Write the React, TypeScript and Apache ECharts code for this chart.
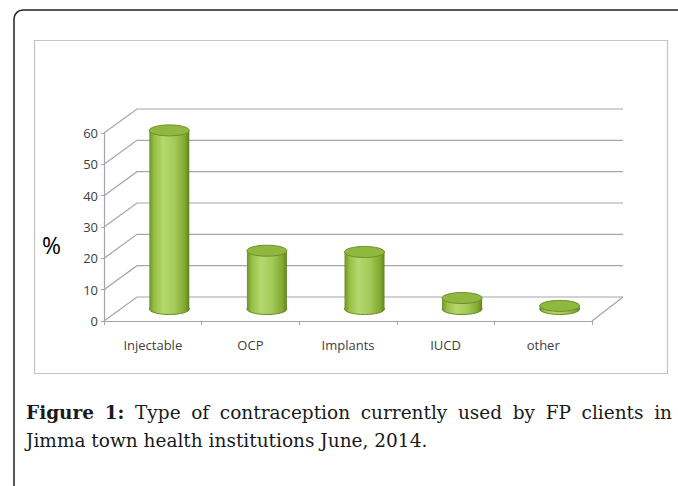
import React, { useEffect, useRef } from "react";
import * as echarts from "echarts";

const categories = ["Injectable", "OCP", "Implants", "IUCD", "other"];
const values = [57, 18.6, 18.2, 3.5, 1];
const yTicks = [0, 10, 20, 30, 40, 50, 60];
const yAxisName = "%";
const captionBold = ["Figure", "1:"];
const captionLine1 = ["Type", "of", "contraception", "currently", "used", "by", "FP", "clients", "in"];
const captionLine2 = "Jimma town health institutions June, 2014.";

// layout (not data)
const DEPTH_X = 33;
const DEPTH_Y = -24;
const CAP_LEFT = 26;
const CAP_RIGHT = 672;

export default function App() {
  const ref = useRef<HTMLDivElement>(null);
  useEffect(() => {
    if (!ref.current) return;
    const chart = echarts.init(ref.current, undefined, { renderer: "svg" });
    const gridColor = "#a6a4ab";
    const font = "'Open Sans', 'Noto Sans', sans-serif";
    const serif = "'DejaVu Serif', 'Liberation Serif', serif";
    const capSize = 18.5;

    // justify line 1 by measuring word widths
    const cv = document.createElement("canvas");
    const ctx = cv.getContext("2d") as CanvasRenderingContext2D;
    const words = [...captionBold, ...captionLine1];
    const fonts = words.map((_, i) => `${i < captionBold.length ? "bold " : ""}${capSize}px ${serif}`);
    const widths = words.map((w, i) => {
      ctx.font = fonts[i];
      return ctx.measureText(w).width;
    });
    const total = widths.reduce((a, b) => a + b, 0);
    const gap = (CAP_RIGHT - CAP_LEFT - total) / (words.length - 1);
    let xPos = CAP_LEFT;
    const captionGraphics: any[] = words.map((w, i) => {
      const g = {
        type: "text",
        x: xPos,
        y: 412,
        style: { text: w, font: fonts[i], fill: "#1a1a1a", verticalAlign: "middle" },
      };
      xPos += widths[i] + gap;
      return g;
    });
    captionGraphics.push({
      type: "text",
      x: CAP_LEFT,
      y: 440,
      style: { text: captionLine2, font: `${capSize}px ${serif}`, fill: "#1a1a1a", verticalAlign: "middle" },
    });

    chart.setOption({
      animation: false,
      grid: { left: 104, top: 133, width: 488, height: 188 },
      xAxis: {
        type: "category",
        data: categories,
        boundaryGap: true,
        axisLine: { lineStyle: { color: gridColor, width: 1.2 } },
        axisTick: { show: true, length: 4, lineStyle: { color: gridColor } },
        axisLabel: { color: "#404040", fontSize: 13, fontFamily: font, margin: 17 },
        splitLine: { show: false },
      },
      yAxis: {
        type: "value",
        min: 0,
        max: 60,
        interval: 10,
        axisLine: { show: true, lineStyle: { color: gridColor, width: 1.2 } },
        axisTick: { show: true, length: 3, lineStyle: { color: gridColor } },
        axisLabel: { color: "#404040", fontSize: 13, fontFamily: font, margin: 6 },
        splitLine: { show: false },
      },
      graphic: [
        {
          type: "rect",
          shape: { x: 14, y: 10, width: 720, height: 600, r: 9 },
          style: { fill: "none", stroke: "#222", lineWidth: 1.5 },
          silent: true,
        },
        {
          type: "rect",
          shape: { x: 34.5, y: 40.5, width: 633, height: 333 },
          style: { fill: "none", stroke: "#c4c4c4", lineWidth: 1.2 },
          silent: true,
        },
        {
          type: "text",
          x: 42,
          y: 245,
          style: { text: yAxisName, font: `500 23px ${font}`, fill: "#000", verticalAlign: "middle" },
        },
        ...captionGraphics,
      ],
      series: [
        {
          type: "custom",
          name: "walls",
          z: 1,
          silent: true,
          clip: false,
          data: yTicks.map((v) => [0, v]),
          renderItem: (params: any, api: any) => {
            const cs = params.coordSys;
            const v = api.value(1);
            const y = api.coord([0, v])[1];
            const x0 = cs.x;
            const x1 = cs.x + cs.width;
            const children: any[] = [
              {
                type: "polyline",
                shape: {
                  points: [
                    [x0, y],
                    [x0 + DEPTH_X, y + DEPTH_Y],
                    [x1 + DEPTH_X - 2, y + DEPTH_Y],
                  ],
                },
                style: { stroke: gridColor, lineWidth: 1.2, fill: "none" },
              },
            ];
            if (v === 0) {
              children.push({
                type: "line",
                shape: { x1: x1, y1: y, x2: x1 + DEPTH_X - 2, y2: y + DEPTH_Y },
                style: { stroke: gridColor, lineWidth: 1.2 },
              });
            }
            return { type: "group", children };
          },
        },
        {
          type: "custom",
          name: "cylinders",
          z: 5,
          clip: false,
          data: values.map((v, i) => [i, v]),
          renderItem: (params: any, api: any) => {
            const i = api.value(0);
            const v = api.value(1);
            const base = api.coord([i, 0]);
            const top = api.coord([i, v]);
            const cx = base[0] + DEPTH_X / 2;
            const yb = base[1] + DEPTH_Y / 2;
            const yt = top[1] + DEPTH_Y / 2;
            const rx = 20;
            const ry = 5.5;
            const body = {
              type: "linear",
              x: 0,
              y: 0,
              x2: 1,
              y2: 0,
              colorStops: [
                { offset: 0, color: "#6e9124" },
                { offset: 0.12, color: "#96bf45" },
                { offset: 0.35, color: "#b6d86e" },
                { offset: 0.65, color: "#a2c955" },
                { offset: 0.9, color: "#7fa62f" },
                { offset: 1, color: "#5f801c" },
              ],
            };
            return {
              type: "group",
              children: [
                {
                  type: "ellipse",
                  shape: { cx, cy: yb, rx, ry },
                  style: { fill: body, stroke: "#6a8a22", lineWidth: 1 },
                },
                {
                  type: "rect",
                  shape: { x: cx - rx, y: yt, width: rx * 2, height: Math.max(yb - yt, 0) },
                  style: { fill: body },
                },
                {
                  type: "ellipse",
                  shape: { cx, cy: yt, rx, ry },
                  style: { fill: "#8fb840", stroke: "#6f9027", lineWidth: 1 },
                },
              ],
            };
          },
        },
      ],
    });
    return () => chart.dispose();
  }, []);
  return (
    <div
      ref={ref}
      style={{ position: "fixed", left: 0, top: 0, width: 678, height: 486, background: "#fff" }}
    />
  );
}
